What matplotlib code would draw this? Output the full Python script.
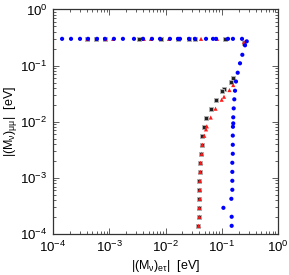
import matplotlib
matplotlib.use("Agg")
import matplotlib.pyplot as plt
from matplotlib.ticker import LogLocator, NullFormatter

plt.rcParams['font.family'] = ['Liberation Sans', 'DejaVu Sans']
plt.rcParams['mathtext.fontset'] = 'custom'
plt.rcParams['mathtext.rm'] = 'Liberation Sans'
plt.rcParams['mathtext.it'] = 'Liberation Sans'
plt.rcParams['mathtext.bf'] = 'Liberation Sans:bold'

# Gray squares series
gray_x = [4.02e-4, 5.8e-4, 8.4e-4, 3.38e-3, 8.3e-3, 0.0167, 0.0262, 0.0334, 0.114,
          0.253, 0.160, 0.144, 0.1096, 0.102, 0.078, 0.0637, 0.0531, 0.0483, 0.0451,
          0.0440, 0.0428, 0.0410, 0.0406, 0.0399, 0.0399, 0.0399, 0.0394, 0.0394, 0.0378]
gray_y = [0.3, 0.3, 0.3, 0.3, 0.3, 0.3, 0.3, 0.3, 0.3,
          0.248, 0.0594, 0.0516, 0.0383, 0.0357, 0.0244, 0.0168, 0.0118, 0.00814, 0.00563,
          0.00389, 0.00269, 0.00186, 0.00128, 0.000888, 0.000614, 0.000424, 0.000293, 0.000203, 0.000140]

# Red series
red_x = [4.19e-4, 8.4e-4, 1.17e-3, 4.12e-3, 5.5e-3, 0.0115, 0.0428, 0.0824,
         0.249, 0.160, 0.137, 0.1096, 0.0997, 0.0775, 0.0637, 0.0543, 0.0525, 0.0489,
         0.0451, 0.0440, 0.0422, 0.0415, 0.0410, 0.0410, 0.0410, 0.0399, 0.0399, 0.0389]
red_y = [0.3, 0.3, 0.3, 0.3, 0.3, 0.3, 0.3, 0.3,
         0.263, 0.0451, 0.0367, 0.0279, 0.0247, 0.0171, 0.0119, 0.00828, 0.00732, 0.00563,
         0.00389, 0.00269, 0.00186, 0.00128, 0.000888, 0.000614, 0.000424, 0.000293, 0.000203, 0.000140]

# Blue series
blue_x = [1.45e-4, 2.09e-4, 3.02e-4, 4.19e-4, 6.05e-4, 8.4e-4, 1.21e-3, 1.75e-3, 2.75e-3,
          3.98e-3, 5.75e-3, 7.98e-3, 0.0120, 0.0167, 0.0181, 0.0262, 0.0334, 0.0525, 0.0699,
          0.0791, 0.129, 0.158, 0.229,
          0.278, 0.259, 0.232, 0.211, 0.192, 0.179, 0.172, 0.167, 0.163, 0.160, 0.160,
          0.158, 0.157, 0.157, 0.157, 0.154, 0.154, 0.154, 0.154, 0.148, 0.107, 0.150, 0.150]
blue_y = [0.3] * 23 + [
          0.271, 0.230, 0.156, 0.110, 0.0747, 0.0521, 0.0357, 0.0251, 0.0173, 0.0120, 0.00936,
          0.00814, 0.00567, 0.00389, 0.00269, 0.00186, 0.00128, 0.000888, 0.000614, 0.000424,
          0.000293, 0.000203, 0.000140]

fig = plt.figure(figsize=(2.89, 2.75), dpi=100)
ax = fig.add_axes([0.1834, 0.149, 0.7786, 0.8165])

ax.scatter(gray_x, gray_y, marker='s', s=6, c='#222222', edgecolors='#b0b0b0',
           linewidths=0.7, zorder=2)
ax.scatter(red_x, red_y, marker='^', s=9, c='#ff1a1a', edgecolors='none', zorder=3)
ax.scatter(blue_x, blue_y, marker='o', s=9, c='#0000ff', edgecolors='none', zorder=4)

ax.set_xscale('log')
ax.set_yscale('log')
ax.set_xlim(1e-4, 1)
ax.set_ylim(1e-4, 1)

ax.xaxis.set_major_locator(LogLocator(base=10, numticks=10))
ax.yaxis.set_major_locator(LogLocator(base=10, numticks=10))
ax.xaxis.set_minor_locator(LogLocator(base=10, subs=range(2, 10), numticks=20))
ax.yaxis.set_minor_locator(LogLocator(base=10, subs=range(2, 10), numticks=20))
ax.xaxis.set_minor_formatter(NullFormatter())
ax.yaxis.set_minor_formatter(NullFormatter())

ax.tick_params(which='both', direction='in', top=True, right=True, labelsize=9.5,
               color='#444444', width=0.6)
ax.tick_params(which='major', length=4, pad=4)
ax.tick_params(which='minor', length=2)
for s in ax.spines.values():
    s.set_linewidth(0.9)
    s.set_color('#333333')

ax.set_xlabel(r'$|(\mathrm{M}_\nu)_{e\tau}|$  [eV]', fontsize=9, labelpad=2)
ax.set_ylabel(r'$|(\mathrm{M}_\nu)_{\mu\mu}|$  [eV]', fontsize=9, labelpad=1)

fig.savefig('out.png', dpi=100)
